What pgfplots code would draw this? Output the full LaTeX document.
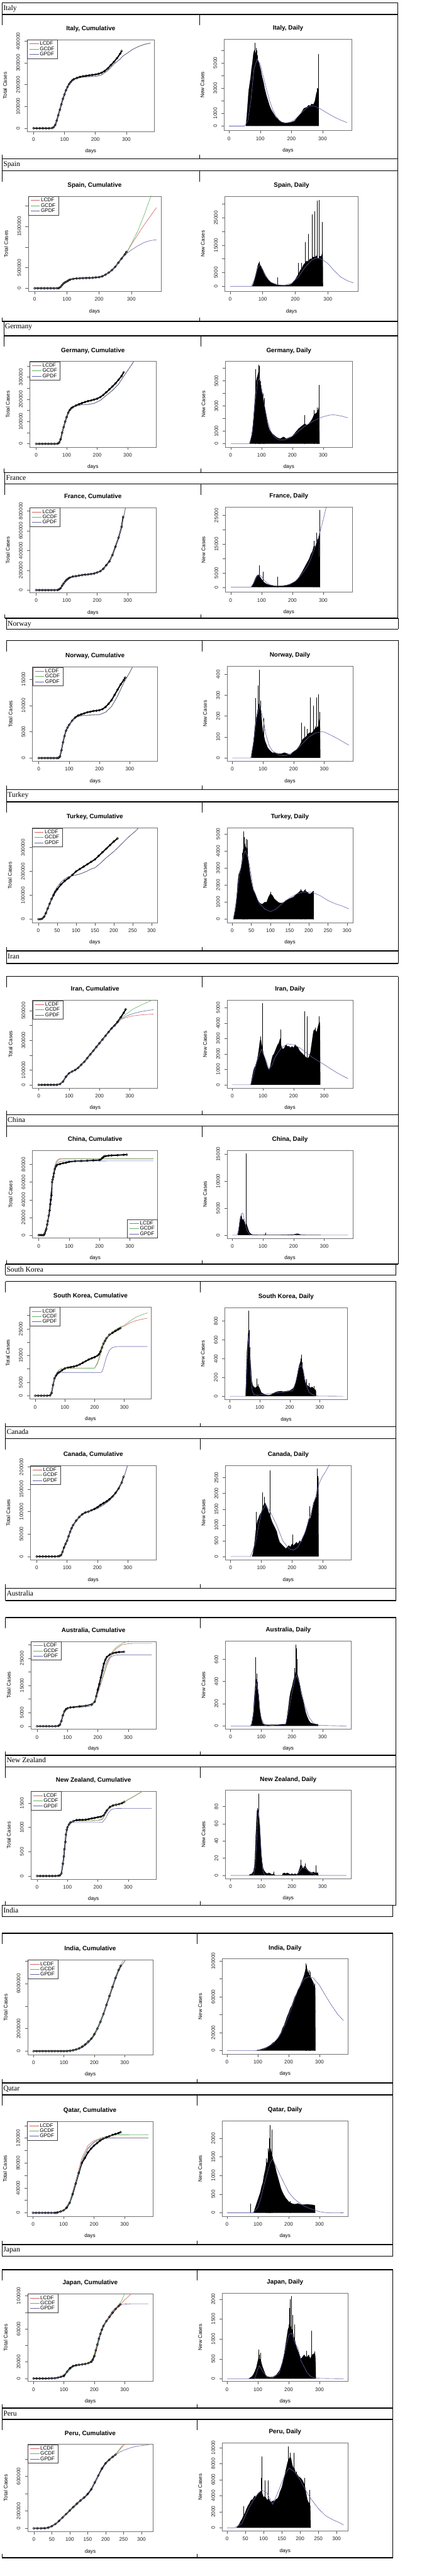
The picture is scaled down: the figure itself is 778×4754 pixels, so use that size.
\documentclass[border=0pt]{standalone}
\usepackage{fontspec}
\setmainfont{Liberation Sans}
\newfontfamily\hdrfont{Liberation Serif}
\usepackage{pgfplots}
\usepackage{pgfplotstable}
\pgfplotsset{compat=1.18}

\definecolor{lc}{RGB}{212,96,96}
\definecolor{gc}{RGB}{96,180,96}
\definecolor{pc}{RGB}{100,100,170}

\newcommand\rtick{\fontsize{9.5}{10}\selectfont}
\newcommand\rtitle{\bfseries\fontsize{11.5}{12}\selectfont}

% box of the current panel (left, top, width, height), in px of the page
\newcommand\bxy[4]{\def\PX{#1}\def\PY{#2}\def\PW{#3}\def\PH{#4}}
\newcommand\panel[2]{%
  \pgfmathsetmacro\pcx{\PX+\PW/2}%
  \pgfmathsetmacro\pty{17-\PY}%
  \pgfmathsetmacro\pxy{-\PY-\PH-39}%
  \pgfmathsetmacro\plx{\PX-37}%
  \pgfmathsetmacro\ply{-\PY-\PH/2}%
  \node[font=\rtitle, anchor=base, inner sep=0pt] at (\pcx pt,\pty pt) {#1};%
  \node[font=\rtick, anchor=base, inner sep=0pt] at (\pcx pt,\pxy pt) {days};%
  \node[font=\rtick, anchor=south, rotate=90, inner sep=0pt] at (\plx pt,\ply pt) {#2};%
}

% table frame of one country: L R M headtop headbottom celltop cellbottom name
\newcommand\blk[8]{%
  \draw[line width=1.8pt] (#1,#4) -- (#2,#4);
  \draw[line width=1.8pt] (#1,#5) -- (#2,#5);
  \draw[line width=1.2pt] (#1,#4) -- (#1,#5) (#2,#4) -- (#2,#5);
  \draw[line width=1.8pt] (#1,#6) -- (#2,#6);
  \draw[line width=1.2pt] (#2,#6) -- (#2,#7);
  \draw[line width=1.2pt] (#1,#6) -- (#1,{#6+20}) (#1,{#7-7}) -- (#1,#7);
  \draw[line width=1pt] (#3,#6) -- (#3,{#6+20}) (#3,{#7-7}) -- (#3,#7);
  \draw[line width=1.8pt] (#1,#7) -- (#2,#7);
  \node[anchor=base west, inner sep=0pt, font=\hdrfont\fontsize{13.5}{14}\selectfont] at ({#1+2},{#4+14}) {#8};
}

\pgfplotsset{
  rbase/.style={scale only axis, anchor=north west,
    at={(\PX pt,-\PY pt)}, width=\PW pt, height=\PH pt,
    axis line style={black!55, line width=0.6pt},
    tick style={black!65, line width=0.5pt},
    tick align=outside, tick pos=left, major tick length=5pt,
    xtick={0,100,200,300},
    tick label style={font=\rtick, text=black!85},
    xticklabel style={inner sep=0pt, anchor=north},
    yticklabel style={rotate=90, anchor=south, inner sep=0pt},
    /pgf/number format/fixed, /pgf/number format/1000 sep={},
    /pgf/number format/assume math mode=true,
    scaled ticks=false,
    xticklabel shift=6pt, yticklabel shift=8pt,
    extra y tick labels={}},
  cum/.style={rbase, legend cell align=left,
    legend style={at={(0,1)}, anchor=north west, draw=black!75, line width=0.5pt,
      fill=white, font=\rtick, inner xsep=4pt, inner ysep=2pt, row sep=-1.5pt,
      nodes={inner sep=1.5pt}},
    legend image code/.code={\draw[##1, line width=0.7pt] (0pt,0pt) -- (17pt,0pt);}},
  day/.style={rbase},
  obs/.style={black, line width=2.2pt, line join=round, mark=o, mark size=2pt,
    mark options={line width=0.6pt, solid}, forget plot},
  lfit/.style={lc, line width=0.7pt, no marks},
  gfit/.style={gc, line width=0.7pt, no marks},
  pfit/.style={pc, line width=0.7pt, no marks},
  bars/.style={draw=black, fill=black, line width=0.3pt, no marks, forget plot},
  spk/.style={ycomb, black, line width=0.6pt, no marks, forget plot},
  dfit/.style={pc, line width=0.7pt, no marks},
}
\newcommand\fitsA[1]{%
  \addplot[lfit] table[y index=1]{#1};
  \addplot[gfit] table[y index=1]{#1};
  \addplot[pfit] table[y index=1]{#1};
  \legend{LCDF,GCDF,GPDF}}
\newcommand\fitsB[1]{%
  \addplot[lfit] table[y index=1]{#1};
  \addplot[gfit] table[y index=2]{#1};
  \addplot[pfit] table[y index=3]{#1};
  \legend{LCDF,GCDF,GPDF}}

% fitted cumulative curves: day, value  (or day, LCDF, GCDF, GPDF)
\pgfplotstableread[row sep=\\]{0 0\\55 0\\65 4000\\75 33000\\85 84000\\95 134000\\105 174000\\115 202000\\125 219000\\140 229000\\160 235000\\180 237000\\200 238000\\220 245000\\240 265000\\260 295000\\280 318000\\290 333000\\300 342000\\320 362000\\340 376000\\360 386000\\378 391000\\}\itfit
\pgfplotstableread[row sep=\\]{0 0 0 0\\60 0 0 0\\70 1000 1000 1000\\80 30000 30000 30000\\90 118000 118000 118000\\100 170000 170000 170000\\110 205000 205000 205000\\120 225000 225000 225000\\140 240000 240000 240000\\160 246000 246000 246000\\180 252000 252000 252000\\200 268000 268000 268000\\220 325000 325000 325000\\240 438000 438000 438000\\260 615000 615000 615000\\280 810000 810000 800000\\290 920000 930000 870000\\300 1057000 1080000 926000\\320 1297000 1385000 1026000\\340 1537000 1777000 1109000\\360 1755000 2214000 1157000\\378 1952000 2600000 1175000\\}\esfit
\pgfplotstableread[row sep=\\]{0 0\\65 0\\75 5000\\85 50000\\95 100000\\105 138000\\115 158000\\130 170000\\150 176000\\170 177000\\190 182000\\210 195000\\230 218000\\250 240000\\270 268000\\285 300000\\300 330000\\310 350000\\320 371000\\330 392000\\}\defit
\pgfplotstableread[row sep=\\]{0 0\\65 0\\75 8000\\85 45000\\95 88000\\105 115000\\120 135000\\140 146000\\160 154000\\180 161000\\200 175000\\220 212000\\240 285000\\260 430000\\280 640000\\290 790000\\300 950000\\}\frfit
\pgfplotstableread[row sep=\\]{0 0\\62 0\\70 300\\75 1500\\80 3000\\90 5200\\100 6300\\110 7100\\120 7600\\130 7900\\140 8050\\160 8150\\180 8200\\200 8250\\220 8700\\240 9800\\260 11800\\280 14300\\290 15300\\300 16300\\310 17400\\320 18600\\}\nofit
\pgfplotstableread[row sep=\\]{0 0\\10 3000\\20 22000\\30 65000\\40 108000\\50 135000\\60 155000\\70 168000\\80 178000\\90 182000\\100 185000\\110 189000\\120 195000\\130 202000\\140 210000\\150 215000\\160 228000\\170 242000\\180 257000\\190 270000\\200 283000\\210 298000\\220 314000\\240 345000\\260 372000\\270 390000\\}\tufit
\pgfplotstableread[row sep=\\]{0 0 0 0\\60 0 0 0\\70 5000 5000 5000\\80 22000 22000 22000\\90 52000 52000 52000\\100 76000 76000 76000\\110 90000 90000 90000\\120 102000 102000 102000\\140 133000 133000 133000\\160 178000 178000 178000\\180 228000 228000 228000\\200 278000 278000 278000\\220 328000 328000 328000\\240 376000 376000 376000\\260 415000 418000 417000\\270 440000 450000 445000\\290 455000 480000 465000\\310 465000 510000 480000\\340 472000 540000 495000\\378 477000 575000 507000\\}\irfit
\pgfplotstableread[row sep=\\]{0 0 0 0\\15 0 0 0\\20 2000 2000 2000\\25 6000 6000 6000\\30 15000 15000 15000\\35 30000 30000 30000\\40 48000 48000 48000\\45 63000 63000 62000\\50 74000 73000 72000\\55 81000 79000 77000\\60 84500 83000 80500\\65 86000 85000 82500\\70 86500 86000 83500\\80 86700 86300 84000\\378 86700 86360 84100\\}\chfit
\pgfplotstableread[row sep=\\]{0 0 0 0\\50 0 0 0\\55 1000 1000 1000\\60 4000 4000 4000\\65 6500 6500 6500\\70 8000 8000 7800\\75 9000 9000 8400\\80 9600 9600 8600\\90 10200 10200 8700\\200 10300 10300 8700\\210 12000 12500 8700\\220 15500 16000 8700\\225 17500 17800 9000\\230 19500 19700 10500\\240 21500 21600 14500\\250 22800 22900 17000\\260 23800 23900 18000\\270 24500 24700 18300\\280 25200 25400 18400\\300 26000 26300 18400\\320 27300 28000 18400\\340 28100 29400 18400\\360 28600 30300 18400\\378 29000 31000 18400\\}\skfit
\pgfplotstableread[row sep=\\]{0 0\\70 0\\80 3000\\90 18000\\100 35000\\110 55000\\120 70000\\130 80000\\140 88000\\150 93000\\160 97000\\170 100000\\180 102000\\200 107000\\220 115000\\240 125000\\260 140000\\270 150000\\280 165000\\290 183000\\300 205000\\310 228000\\}\cafit
\pgfplotstableread[row sep=\\]{0 0 0 0\\65 0 0 0\\75 500 500 500\\80 1900 1900 1900\\85 4000 4000 4000\\90 5400 5400 5400\\100 6500 6500 6500\\110 6800 6800 6800\\140 7000 7000 6900\\180 7800 7800 7400\\190 9500 9500 9000\\200 12000 12500 12000\\210 15500 16000 17000\\220 19000 19500 21000\\230 22500 23000 24000\\240 25000 26000 25300\\250 27000 27800 25900\\260 28500 29000 26200\\280 30000 30500 26300\\300 30400 31300 26300\\320 30500 32500 26300\\378 30500 34000 26300\\}\aufit
\pgfplotstableread[row sep=\\]{0 0 0 0\\75 0 0 0\\80 50 50 50\\85 250 250 250\\90 550 550 550\\95 850 850 850\\100 990 990 990\\105 1060 1060 1060\\110 1100 1100 1095\\120 1130 1130 1100\\200 1140 1140 1100\\215 1160 1180 1105\\225 1280 1290 1180\\235 1370 1380 1300\\245 1420 1430 1370\\260 1465 1465 1390\\287 1525 1525 1392\\300 1570 1575 1393\\320 1640 1645 1393\\340 1715 1720 1393\\350 1750 1755 1393\\378 1850 1855 1393\\}\nzfit
\pgfplotstableread[row sep=\\]{0 0 0 0\\100 0 0 0\\120 25000 30000 10000\\140 170000 160000 100000\\160 420000 400000 300000\\180 850000 850000 700000\\200 1500000 1500000 1350000\\220 2600000 2600000 2500000\\240 4100000 4100000 4050000\\260 5700000 5750000 5700000\\280 7100000 7250000 7100000\\290 7600000 7800000 7600000\\300 8000000 8300000 8000000\\310 8400000 8800000 8400000\\}\infit
\pgfplotstableread[row sep=\\]{0 0 0 0\\80 0 0 0\\100 4000 3500 3000\\120 18000 17000 15000\\140 52000 50000 47000\\160 88000 84000 82000\\180 108000 104000 103000\\200 116000 114000 113000\\220 119000 120000 118000\\240 120000 123000 119800\\260 120200 124500 120200\\280 120300 125200 120300\\378 120300 125500 120300\\}\qafit
\pgfplotstableread[row sep=\\]{0 0 0 0\\70 300 300 300\\90 2000 2000 1800\\110 8000 8000 7000\\130 14500 14500 14000\\150 16500 16500 16000\\170 17500 17500 17200\\180 19000 19000 18000\\190 22000 21000 20000\\200 28000 30000 25000\\210 40000 42000 38000\\220 53000 55000 52000\\230 62000 63000 63000\\240 69000 70000 70000\\260 80000 80500 82000\\280 87000 89000 88000\\290 91000 94000 89500\\300 95000 103000 90000\\320 102000 115000 90300\\330 105000 120000 90400\\378 115000 140000 90400\\}\jafit
\pgfplotstableread[row sep=\\]{0 0 0 0\\20 200 200 200\\30 1500 1500 1500\\40 8000 8000 8000\\50 25000 25000 25000\\60 50000 50000 50000\\80 125000 125000 125000\\100 205000 205000 205000\\120 280000 270000 285000\\140 355000 355000 355000\\160 455000 455000 455000\\180 610000 610000 610000\\200 745000 745000 745000\\220 825000 825000 825000\\230 860000 865000 855000\\240 910000 920000 880000\\250 955000 975000 900000\\260 1000000 1030000 915000\\270 1040000 1080000 930000\\290 1100000 1150000 950000\\320 1150000 1200000 962000\\}\pefit

\begin{document}
\begin{tikzpicture}
\useasboundingbox (0pt,0pt) rectangle (778pt,-4754pt);
\fill[white] (0pt,0pt) rectangle (778pt,-4754pt);

\begin{scope}[x=1pt,y=-1pt]
\blk{4}{734}{368}{5}{27}{27}{293}{Italy}
\blk{4}{734}{368}{293}{315}{315}{593}{Spain}
\blk{7}{734}{371}{593}{620}{620}{872}{Germany}
\blk{9}{734}{371}{872}{893}{893}{1141}{France}
\blk{12}{735}{373}{1141}{1161}{1182}{1457}{Norway}
\blk{12}{735}{373}{1457}{1480}{1480}{1755}{Turkey}
\blk{12}{735}{373}{1755}{1778}{1802}{2057}{Iran}
\blk{12}{735}{373}{2057}{2078}{2078}{2333}{China}
\blk{10}{731}{370}{2333}{2353}{2365}{2633}{South Korea}
\blk{10}{731}{370}{2633}{2655}{2655}{2931}{Canada}
\blk{10}{731}{370}{2931}{2954}{2985}{3239}{Australia}
\blk{10}{731}{370}{3239}{3261}{3261}{3516}{New Zealand}
\blk{4}{725}{364}{3516}{3537}{3568}{3844}{India}
\blk{4}{725}{364}{3844}{3866}{3866}{4142}{Qatar}
\blk{4}{725}{364}{4142}{4164}{4189}{4444}{Japan}
\blk{4}{725}{364}{4444}{4465}{4465}{4720}{Peru}
\end{scope}

% ---------------- Italy
\bxy{50}{73}{235}{170}\panel{Italy, Cumulative}{Total Cases}
\begin{axis}[cum, xmin=-21, xmax=391, ymin=-15800, ymax=407500, ytick={0,100000,200000,300000,400000}]
\addplot[obs] table[row sep=\\]{0 0\\10 0\\20 0\\30 0\\40 0\\50 0\\60 1000\\65 5000\\70 15000\\75 35000\\80 60000\\85 85000\\90 110000\\95 135000\\100 155000\\105 175000\\110 190000\\115 203000\\120 212000\\125 220000\\130 225000\\140 231000\\150 236000\\160 239000\\170 241000\\180 243000\\190 245000\\200 247000\\210 250000\\220 255000\\230 263000\\240 275000\\250 290000\\260 305000\\270 322000\\280 342000\\285 355000\\};
\fitsA{\itfit}
\end{axis}
\bxy{414}{72}{235}{169}\panel{Italy, Daily}{New Cases}
\begin{axis}[day, xmin=-15, xmax=393, ymin=-357, ymax=6886, ytick={0,1000,3000,5000}, extra y ticks={2000,4000,6000}]
\addplot[bars] table[row sep=\\]{54 0\\57 800\\60 1800\\63 2800\\66 3300\\69 3800\\72 4500\\75 5000\\78 5700\\81 6000\\84 5700\\87 5900\\90 5500\\93 5200\\96 5000\\99 4700\\102 4400\\105 4000\\108 3700\\111 3400\\114 3000\\117 2700\\120 2400\\125 2000\\130 1600\\135 1300\\140 1100\\145 900\\150 700\\155 600\\160 450\\165 350\\170 300\\175 280\\180 250\\185 250\\190 260\\195 280\\200 300\\205 350\\210 400\\215 550\\220 700\\225 850\\230 1000\\235 1200\\240 1400\\245 1450\\250 1500\\255 1650\\260 1600\\265 1750\\270 1700\\275 1950\\280 2600\\283 2800\\286 3000\\287 0\\};
\addplot[spk] table[row sep=\\]{83 6570\\86 6200\\88 6000\\91 5600\\282 3000\\286 5700\\};
\addplot[dfit] table[row sep=\\]{0 0\\50 0\\60 400\\70 2000\\80 4500\\90 5300\\100 4900\\110 3900\\120 2900\\130 2000\\140 1300\\150 800\\160 500\\170 300\\180 250\\190 280\\200 350\\210 500\\220 750\\230 1000\\240 1250\\250 1450\\260 1580\\265 1600\\270 1590\\280 1520\\290 1400\\300 1250\\320 950\\340 680\\360 450\\378 280\\};
\end{axis}

% ---------------- Spain
\bxy{52}{362}{245}{176}\panel{Spain, Cumulative}{Total Cases}
\begin{axis}[cum, xmin=-20, xmax=392, ymin=-78600, ymax=2231000, ytick={0,500000,1500000}, extra y ticks={1000000,2000000}]
\addplot[obs] table[row sep=\\]{0 0\\10 0\\20 0\\30 0\\40 0\\50 0\\60 0\\70 1000\\75 5000\\80 30000\\85 75000\\90 120000\\95 145000\\100 165000\\105 190000\\110 210000\\120 227000\\130 238000\\140 242000\\150 245000\\160 248000\\170 251000\\180 255000\\190 262000\\200 270000\\210 290000\\220 330000\\230 380000\\240 440000\\250 520000\\260 620000\\270 720000\\280 820000\\285 880000\\};
\fitsB{\esfit}
\end{axis}
\bxy{415}{362}{246}{176}\panel{Spain, Daily}{New Cases}
\begin{axis}[day, xmin=-16, xmax=393, ymin=-1900, ymax=32900, ytick={0,5000,15000,25000}, extra y ticks={10000,20000,30000}]
\addplot[bars] table[row sep=\\]{67 0\\70 500\\73 1500\\76 3000\\79 4500\\82 6000\\85 7500\\88 8500\\91 8000\\94 7500\\97 6500\\100 6000\\103 5000\\106 4300\\109 3600\\112 3200\\115 2800\\118 2300\\121 1900\\125 1500\\130 1200\\135 1000\\140 800\\145 600\\150 500\\160 400\\170 400\\180 500\\185 700\\190 1000\\195 1800\\200 2500\\205 3500\\210 4500\\215 5800\\220 6500\\225 7800\\230 8500\\235 9300\\240 9000\\245 10000\\250 10000\\255 10800\\260 10500\\265 11200\\270 10000\\275 11000\\280 11000\\284 12500\\285 0\\};
\addplot[spk] table[row sep=\\]{89 9100\\145 3200\\210 8600\\219 8600\\231 16200\\240 19100\\252 26200\\260 27400\\267 31300\\273 31400\\282 23400\\};
\addplot[dfit] table[row sep=\\]{0 0\\65 0\\75 2500\\85 6800\\90 7600\\95 7400\\105 5000\\115 2800\\125 1500\\140 700\\150 500\\170 500\\190 1200\\210 3500\\230 7000\\250 9500\\265 10400\\275 10200\\290 9200\\300 8300\\320 5650\\340 3350\\360 2040\\378 1250\\};
\end{axis}

% ---------------- Germany
\bxy{55}{667}{233}{158}\panel{Germany, Cumulative}{Total Cases}
\begin{axis}[cum, xmin=-21, xmax=393, ymin=-14600, ymax=370600, ytick={0,100000,200000,300000}, extra y ticks={50000,150000,250000,350000}]
\addplot[obs] table[row sep=\\]{0 0\\10 0\\20 0\\30 0\\40 0\\50 0\\60 0\\70 500\\75 5000\\80 20000\\85 50000\\90 75000\\95 100000\\100 120000\\105 140000\\110 152000\\115 160000\\120 165000\\130 172000\\140 178000\\150 183000\\160 188000\\170 192000\\180 195000\\190 199000\\200 203000\\210 210000\\220 220000\\230 232000\\240 245000\\250 258000\\260 272000\\270 288000\\280 305000\\287 322000\\};
\fitsA{\defit}
\end{axis}
\bxy{416}{667}{234}{158}\panel{Germany, Daily}{New Cases}
\begin{axis}[day, xmin=-17, xmax=394, ymin=-258, ymax=6547, ytick={0,1000,3000,5000}, extra y ticks={2000,4000,6000}]
\addplot[bars] table[row sep=\\]{62 0\\65 300\\68 700\\71 1200\\74 2000\\77 3000\\80 4000\\83 5000\\86 5300\\89 5600\\92 5800\\95 5000\\98 4500\\101 4100\\104 3800\\107 3400\\110 3000\\113 2500\\116 2100\\119 1700\\122 1400\\126 1100\\130 950\\135 800\\140 700\\145 600\\150 500\\155 450\\160 400\\165 450\\170 550\\175 500\\180 400\\185 450\\190 500\\195 550\\200 600\\205 750\\210 900\\215 1050\\220 1200\\225 1300\\230 1400\\235 1500\\240 1600\\245 1500\\250 1500\\255 1650\\260 1800\\265 2000\\270 2300\\275 2400\\280 2500\\284 2700\\287 3000\\288 0\\};
\addplot[spk] table[row sep=\\]{81 5930\\90 6290\\93 6200\\96 5000\\105 4000\\110 3640\\240 2300\\270 2700\\280 2900\\287 4700\\};
\addplot[dfit] table[row sep=\\]{0 0\\60 0\\70 800\\80 3500\\88 5000\\93 5200\\100 4500\\110 3000\\120 1800\\130 1000\\140 600\\150 400\\160 300\\170 300\\180 350\\190 450\\200 600\\220 1000\\240 1400\\260 1700\\280 1950\\300 2150\\320 2280\\330 2300\\340 2290\\360 2200\\380 2063\\};
\end{axis}

% ---------------- France
\bxy{55}{937}{233}{157}\panel{France, Cumulative}{Total Cases}
\begin{axis}[cum, xmin=-21, xmax=393, ymin=-27000, ymax=833000, ytick={0,200000,400000,600000,800000}]
\addplot[obs] table[row sep=\\]{0 0\\10 0\\20 0\\30 0\\40 0\\50 0\\60 0\\70 1000\\75 8000\\80 20000\\85 45000\\90 67000\\95 88000\\100 104000\\105 116000\\110 126000\\120 137000\\130 141000\\140 147000\\150 152000\\160 156000\\170 159000\\180 163000\\190 168000\\200 178000\\210 191000\\220 215000\\230 252000\\240 290000\\250 355000\\260 440000\\270 530000\\280 640000\\285 740000\\};
\fitsA{\frfit}
\end{axis}
\bxy{416}{936}{234}{157}\panel{France, Daily}{New Cases}
\begin{axis}[day, xmin=-17, xmax=394, ymin=-1750, ymax=27900, ytick={0,5000,15000,25000}, extra y ticks={10000,20000}]
\addplot[bars] table[row sep=\\]{67 0\\70 500\\73 1200\\76 2000\\79 2800\\82 3500\\85 4000\\88 4300\\91 4200\\94 3800\\97 3300\\100 2800\\103 2400\\106 2000\\110 1600\\115 1200\\120 1000\\125 800\\130 700\\140 500\\150 400\\160 450\\170 500\\180 700\\190 1000\\200 1500\\210 2000\\220 3300\\230 5000\\240 7000\\245 8000\\250 9000\\255 10000\\260 11500\\265 12500\\270 14500\\275 14000\\280 16500\\285 17000\\287 18000\\288 0\\};
\addplot[spk] table[row sep=\\]{92 7560\\105 5500\\152 3600\\271 16200\\279 19000\\289 26900\\};
\addplot[dfit] table[row sep=\\]{0 0\\65 0\\75 1500\\85 3800\\92 4500\\100 3700\\110 2300\\120 1300\\130 800\\140 550\\150 450\\160 450\\170 550\\180 700\\190 900\\200 1500\\210 2200\\220 3200\\230 4500\\240 6000\\250 7500\\260 10000\\270 13000\\280 16000\\290 19500\\300 23500\\310 28000\\320 32000\\};
\end{axis}

% ---------------- Norway
\bxy{60}{1231}{231}{174}\panel{Norway, Cumulative}{Total Cases}
\begin{axis}[cum, xmin=-20.5, xmax=392, ymin=-616, ymax=17300, ytick={0,5000,10000,15000}]
\addplot[obs] table[row sep=\\]{0 0\\10 0\\20 0\\30 0\\40 0\\50 0\\60 0\\65 50\\70 300\\75 1500\\80 3000\\85 4200\\90 5200\\95 5800\\100 6300\\110 7100\\120 7700\\130 8100\\140 8300\\150 8500\\160 8700\\170 8800\\180 8950\\190 9000\\200 9100\\210 9300\\220 9700\\230 10300\\240 11000\\250 12000\\260 13000\\270 14000\\280 14800\\285 15300\\};
\fitsA{\nofit}
\end{axis}
\bxy{419}{1229}{232}{176}\panel{Norway, Daily}{New Cases}
\begin{axis}[day, xmin=-17, xmax=393, ymin=-16.5, ymax=440, ytick={0,100,200,300,400}]
\addplot[bars] table[row sep=\\]{62 0\\65 30\\68 60\\71 100\\74 150\\77 180\\80 200\\83 230\\86 240\\89 250\\92 240\\95 200\\98 150\\101 120\\104 100\\107 80\\110 70\\115 50\\120 40\\130 25\\140 25\\150 20\\160 20\\170 25\\180 20\\190 15\\200 30\\210 40\\220 60\\230 90\\240 100\\250 120\\260 120\\270 140\\280 150\\284 180\\286 200\\287 0\\};
\addplot[spk] table[row sep=\\]{75 285\\83 347\\86 260\\88 422\\92 274\\103 191\\225 170\\235 150\\245 140\\255 288\\265 250\\270 150\\275 290\\280 305\\285 220\\};
\addplot[dfit] table[row sep=\\]{0 0\\60 0\\70 80\\80 200\\90 250\\100 190\\110 110\\120 60\\130 35\\150 15\\170 10\\190 20\\210 40\\230 70\\250 100\\270 118\\290 125\\300 124\\320 110\\340 95\\360 78\\380 61\\};
\end{axis}

% ---------------- Turkey
\bxy{59}{1528}{232}{175}\panel{Turkey, Cumulative}{Total Cases}
\begin{axis}[cum, xmin=-17, xmax=316.5, ymin=-15100, ymax=381700, xtick={0,50,...,300}, ytick={0,100000,200000,300000}]
\addplot[obs] table[row sep=\\]{0 0\\5 0\\10 2000\\15 10000\\20 25000\\25 45000\\30 65000\\35 85000\\40 100000\\45 115000\\50 125000\\60 145000\\70 160000\\80 172000\\90 185000\\100 200000\\110 210000\\120 220000\\130 230000\\140 240000\\150 250000\\160 265000\\170 280000\\180 295000\\190 310000\\200 325000\\210 338000\\};
\fitsA{\tufit}
\end{axis}
\bxy{419}{1528}{232}{175}\panel{Turkey, Daily}{New Cases}
\begin{axis}[day, xmin=-13.4, xmax=315, ymin=-211, ymax=5348, xtick={0,50,...,300}, ytick={0,1000,2000,3000,4000,5000}]
\addplot[bars] table[row sep=\\]{3 0\\5 200\\8 500\\11 1000\\14 2000\\17 2600\\20 2800\\23 3000\\26 3500\\29 4100\\32 4500\\35 4200\\38 4200\\41 3700\\44 3100\\47 2600\\50 2200\\55 1700\\60 1500\\65 1200\\70 1000\\75 900\\80 900\\85 1000\\90 1000\\95 1300\\100 1500\\105 1400\\110 1200\\115 1100\\120 1000\\125 950\\130 950\\135 1000\\140 1100\\145 1150\\150 1200\\155 1250\\160 1300\\165 1400\\170 1500\\175 1600\\180 1700\\185 1600\\190 1700\\195 1600\\200 1500\\205 1500\\210 1600\\212 1650\\213 0\\};
\addplot[spk] table[row sep=\\]{26 3900\\30 5148\\32 4800\\37 4700\\40 4650\\100 1600\\180 1750\\190 1750\\212 1650\\};
\addplot[dfit] table[row sep=\\]{3 0\\10 1000\\20 2700\\30 3800\\34 4000\\40 3700\\45 3200\\55 1800\\70 950\\85 600\\100 450\\115 600\\130 900\\150 1250\\170 1500\\190 1600\\210 1570\\230 1380\\250 1100\\270 900\\290 750\\305 600\\};
\end{axis}

% ---------------- Iran
\bxy{60}{1846}{231}{162}\panel{Iran, Cumulative}{Total Cases}
\begin{axis}[cum, xmin=-20.5, xmax=392, ymin=-21900, ymax=570000, ytick={0,100000,300000,500000}, extra y ticks={200000,400000}]
\addplot[obs] table[row sep=\\]{0 0\\10 0\\20 0\\30 0\\40 0\\50 0\\60 0\\70 5000\\80 22000\\90 55000\\100 78000\\110 90000\\120 100000\\130 115000\\140 135000\\150 155000\\160 180000\\170 205000\\180 230000\\190 255000\\200 280000\\210 305000\\220 330000\\230 355000\\240 380000\\250 400000\\260 425000\\270 455000\\280 485000\\287 510000\\};
\fitsB{\irfit}
\end{axis}
\bxy{419}{1846}{232}{162}\panel{Iran, Daily}{New Cases}
\begin{axis}[day, xmin=-17, xmax=393, ymin=-210, ymax=5480, ytick={0,1000,2000,3000,4000,5000}]
\addplot[bars] table[row sep=\\]{60 0\\63 300\\66 600\\69 900\\72 1100\\75 1200\\78 1400\\81 1600\\84 1900\\87 2300\\90 2800\\93 3000\\96 2600\\99 2300\\102 2000\\105 1800\\108 1600\\111 1400\\114 1200\\117 1050\\120 1000\\124 1200\\128 1600\\132 1900\\136 2000\\140 2200\\144 2400\\148 2600\\152 2700\\156 3000\\160 2500\\165 2300\\170 2400\\175 2600\\180 2500\\185 2500\\190 2400\\195 2500\\200 2400\\205 2600\\210 2500\\215 2400\\220 2200\\225 2100\\230 2000\\235 1900\\240 1800\\245 1700\\250 1800\\255 2100\\260 2800\\265 3500\\270 3600\\275 3400\\280 3800\\284 4100\\286 4000\\287 0\\};
\addplot[spk] table[row sep=\\]{93 3150\\98 5280\\158 3590\\236 4750\\243 4430\\270 3700\\284 4430\\};
\addplot[dfit] table[row sep=\\]{0 0\\60 0\\70 700\\80 1500\\95 2300\\110 1600\\120 1000\\130 1300\\140 1800\\160 2400\\180 2650\\200 2600\\220 2400\\240 2100\\260 1800\\280 1550\\300 1310\\320 1050\\340 800\\360 580\\378 400\\};
\end{axis}

% ---------------- China
\bxy{60}{2123}{231}{162}\panel{China, Cumulative}{Total Cases}
\begin{axis}[cum, xmin=-20.5, xmax=392, ymin=-3490, ymax=96000, ytick={0,20000,40000,60000,80000}, legend style={at={(1,0)}, anchor=south east}]
\addplot[obs] table[row sep=\\]{0 0\\5 0\\10 0\\15 0\\18 500\\20 2000\\23 5000\\25 7000\\28 12000\\30 16000\\33 22000\\36 28000\\38 35000\\40 40000\\42 45000\\44 60000\\46 63000\\48 66000\\50 70000\\53 75000\\57 78000\\60 79500\\70 80500\\80 81500\\90 82000\\100 83000\\120 83800\\140 84000\\160 84300\\180 84700\\200 85000\\205 86000\\210 87500\\215 89000\\220 89500\\230 90000\\240 90300\\260 90600\\280 91000\\290 91200\\};
\fitsB{\chfit}
\end{axis}
\bxy{419}{2123}{232}{162}\panel{China, Daily}{New Cases}
\begin{axis}[day, xmin=-17, xmax=393, ymin=-570, ymax=15700, ytick={0,5000,10000,15000}]
\addplot[bars] table[row sep=\\]{18 0\\20 500\\22 1500\\24 2500\\26 3200\\28 3500\\30 3700\\32 3000\\34 2700\\36 3000\\38 2600\\40 2400\\42 2000\\44 1800\\46 2200\\48 1800\\50 1400\\53 900\\56 500\\60 250\\65 100\\70 50\\90 40\\100 40\\108 100\\110 40\\150 30\\200 100\\210 250\\215 250\\220 120\\230 40\\240 10\\288 10\\289 0\\};
\addplot[spk] table[row sep=\\]{27 3460\\28 3800\\45 15100\\108 440\\};
\addplot[dfit] table[row sep=\\]{0 0\\15 0\\20 800\\25 2500\\30 4000\\34 4100\\38 3300\\42 2200\\48 900\\55 200\\62 20\\70 0\\200 0\\210 150\\220 100\\230 0\\378 0\\};
\end{axis}

% ---------------- South Korea
\bxy{55}{2412}{224}{170}\panel{South Korea, Cumulative}{Total Cases}
\begin{axis}[cum, xmin=-18.3, xmax=390.6, ymin=-1280, ymax=33180, ytick={0,5000,15000,25000}, extra y ticks={10000,20000,30000}]
\addplot[obs] table[row sep=\\]{0 0\\10 0\\20 0\\30 0\\40 0\\50 100\\55 1000\\60 4000\\65 6500\\70 7500\\75 8300\\80 8700\\90 9500\\100 10200\\110 10500\\120 10700\\130 10900\\140 11200\\150 11700\\160 12300\\170 12900\\180 13500\\190 14000\\200 14400\\210 15000\\215 15500\\220 16500\\225 18000\\230 19500\\235 20500\\240 21500\\250 22800\\260 23500\\270 24200\\280 24800\\287 25300\\};
\fitsB{\skfit}
\end{axis}
\bxy{415}{2413}{226}{170}\panel{South Korea, Daily}{New Cases}
\begin{axis}[day, xmin=-16.3, xmax=392, ymin=-36, ymax=943, ytick={0,200,400,600,800}]
\addplot[bars] table[row sep=\\]{53 0\\55 250\\57 450\\59 550\\61 650\\63 700\\65 600\\67 500\\69 380\\71 280\\73 170\\76 120\\80 100\\85 90\\90 100\\95 110\\100 80\\105 40\\110 30\\120 15\\130 10\\140 20\\150 40\\160 50\\170 55\\180 50\\190 55\\200 60\\205 70\\210 80\\215 100\\220 150\\225 220\\228 280\\231 320\\234 350\\237 380\\240 350\\243 300\\246 240\\249 180\\252 150\\255 130\\260 110\\265 100\\270 90\\275 100\\280 80\\285 70\\287 60\\288 0\\};
\addplot[spk] table[row sep=\\]{62 907\\64 700\\66 520\\90 190\\95 130\\236 400\\239 442\\242 360\\255 180\\265 140\\280 110\\};
\addplot[dfit] table[row sep=\\]{0 0\\53 0\\57 300\\62 650\\66 500\\70 200\\75 60\\80 20\\90 10\\140 30\\180 45\\210 60\\220 150\\230 300\\238 330\\245 280\\255 120\\265 40\\280 10\\295 2\\378 0\\};
\end{axis}

% ---------------- Canada
\bxy{56}{2705}{232}{174}\panel{Canada, Cumulative}{Total Cases}
\begin{axis}[cum, xmin=-21, xmax=393, ymin=-8000, ymax=202500, ytick={0,50000,100000,150000,200000}]
\addplot[obs] table[row sep=\\]{0 0\\10 0\\20 0\\30 0\\40 0\\50 0\\60 0\\70 300\\75 1000\\80 3000\\85 10000\\90 20000\\95 28000\\100 35000\\105 45000\\110 55000\\115 63000\\120 70000\\130 80000\\140 88000\\150 94000\\160 98000\\170 100000\\180 103000\\190 106000\\200 110000\\210 115000\\220 119000\\230 123000\\240 128000\\250 134000\\260 142000\\270 152000\\280 165000\\286 178000\\};
\fitsA{\cafit}
\end{axis}
\bxy{416}{2704}{232}{175}\panel{Canada, Daily}{New Cases}
\begin{axis}[day, xmin=-17, xmax=393, ymin=-113, ymax=2897, ytick={0,500,1000,1500,2000,2500}]
\addplot[bars] table[row sep=\\]{70 0\\73 100\\76 300\\79 500\\82 800\\85 1000\\88 1150\\91 1200\\94 1300\\97 1350\\100 1400\\103 1500\\106 1600\\109 1650\\112 1700\\115 1650\\118 1550\\121 1500\\124 1400\\127 1350\\130 1250\\135 1100\\140 1000\\145 900\\150 800\\155 600\\160 450\\165 400\\170 350\\175 300\\180 250\\185 300\\190 350\\195 300\\200 400\\205 350\\210 400\\215 450\\220 400\\225 500\\230 450\\235 600\\240 700\\245 800\\250 1000\\255 1200\\260 1200\\265 1400\\270 1700\\275 1800\\280 1900\\283 2300\\286 2500\\287 0\\};
\addplot[spk] table[row sep=\\]{83 1410\\103 2036\\110 1900\\128 2740\\203 700\\258 1600\\282 2790\\285 2550\\};
\addplot[dfit] table[row sep=\\]{0 0\\65 0\\80 400\\90 900\\100 1400\\115 1650\\130 1400\\150 1000\\170 500\\190 250\\205 200\\220 300\\240 700\\260 1300\\280 2000\\290 2350\\300 2550\\310 2700\\320 2880\\330 3050\\};
\end{axis}

% ---------------- Australia
\bxy{57}{3029}{231}{162}\panel{Australia, Cumulative}{Total Cases}
\begin{axis}[cum, xmin=-20.5, xmax=392, ymin=-1140, ymax=31260, ytick={0,5000,15000,25000}, extra y ticks={10000,20000,30000}]
\addplot[obs] table[row sep=\\]{0 0\\10 0\\20 0\\30 0\\40 0\\50 0\\60 0\\70 100\\75 500\\80 1900\\85 4000\\90 5500\\95 6200\\100 6600\\110 6900\\120 7000\\140 7300\\160 7500\\180 8000\\190 9000\\195 11000\\200 13500\\205 15500\\210 18000\\215 20500\\220 23000\\225 24500\\230 25500\\240 26400\\250 26900\\260 27100\\270 27300\\286 27400\\};
\fitsB{\aufit}
\end{axis}
\bxy{416}{3028}{232}{163}\panel{Australia, Daily}{New Cases}
\begin{axis}[day, xmin=-17, xmax=393, ymin=-28, ymax=766, ytick={0,200,400,600}]
\addplot[bars] table[row sep=\\]{65 0\\68 20\\71 60\\74 120\\77 250\\80 350\\83 420\\86 400\\89 330\\92 270\\95 150\\98 90\\101 50\\105 20\\110 15\\120 10\\180 15\\183 60\\186 120\\189 180\\192 250\\195 300\\198 330\\201 360\\204 400\\207 430\\210 460\\213 500\\216 480\\219 450\\222 420\\225 380\\228 320\\231 280\\234 250\\237 220\\240 180\\245 120\\250 80\\255 50\\260 30\\270 20\\285 15\\286 0\\};
\addplot[spk] table[row sep=\\]{82 620\\85 473\\88 400\\208 520\\212 733\\214 700\\217 600\\};
\addplot[dfit] table[row sep=\\]{0 0\\68 0\\75 120\\80 300\\85 390\\90 300\\95 150\\100 70\\110 10\\120 0\\180 20\\190 150\\200 300\\210 430\\215 455\\225 380\\240 200\\255 80\\270 25\\290 5\\378 0\\};
\end{axis}

% ---------------- New Zealand
\bxy{57}{3306}{231}{162}\panel{New Zealand, Cumulative}{Total Cases}
\begin{axis}[cum, xmin=-20.5, xmax=392, ymin=-67, ymax=1741, ytick={0,500,1000,1500}]
\addplot[obs] table[row sep=\\]{0 0\\10 0\\20 0\\30 0\\40 0\\50 0\\60 0\\70 5\\75 10\\80 50\\85 250\\88 400\\90 550\\93 700\\95 850\\98 950\\100 1000\\105 1060\\110 1100\\120 1130\\130 1150\\140 1155\\150 1155\\160 1160\\170 1170\\180 1185\\190 1195\\200 1210\\210 1220\\220 1250\\225 1300\\230 1350\\240 1420\\250 1450\\260 1465\\270 1480\\280 1500\\287 1525\\};
\fitsB{\nzfit}
\end{axis}
\bxy{416}{3304}{232}{163}\panel{New Zealand, Daily}{New Cases}
\begin{axis}[day, xmin=-17, xmax=393, ymin=-3.8, ymax=98.9, ytick={0,20,40,60,80}]
\addplot[bars] table[row sep=\\]{60 0\\62 1\\70 2\\75 5\\78 12\\80 25\\82 45\\84 60\\86 75\\88 77\\90 76\\92 70\\94 62\\96 50\\98 38\\100 25\\103 15\\106 8\\110 5\\115 3\\120 2\\125 3\\130 2\\135 1\\140 2\\145 0\\168 0\\170 2\\175 3\\180 2\\185 3\\190 2\\195 1\\200 2\\205 1\\210 2\\215 1\\220 3\\225 8\\228 12\\231 12\\234 9\\237 8\\240 10\\243 11\\246 9\\250 7\\255 5\\260 4\\265 3\\270 4\\275 3\\280 3\\285 3\\286 0\\};
\addplot[spk] table[row sep=\\]{87 78\\92 95\\140 4\\228 18\\243 14\\278 12\\};
\addplot[dfit] table[row sep=\\]{0 0\\75 0\\80 10\\85 40\\88 65\\91 75\\95 60\\100 25\\105 6\\110 1\\115 0\\215 0\\225 5\\235 10\\245 8\\260 3\\280 0\\378 0\\};
\end{axis}

% ---------------- India
\bxy{51}{3617}{231}{175}\panel{India, Cumulative}{Total Cases}
\begin{axis}[cum, xmin=-19.6, xmax=392.6, ymin=-321000, ymax=8100000, ytick={0,2000000,6000000}, extra y ticks={4000000,8000000}]
\addplot[obs] table[row sep=\\]{0 0\\10 0\\20 0\\30 0\\40 0\\50 0\\60 0\\70 0\\80 0\\90 0\\100 0\\110 5000\\120 30000\\130 80000\\140 150000\\150 250000\\160 400000\\170 600000\\180 850000\\190 1100000\\200 1500000\\210 2000000\\220 2600000\\230 3300000\\240 4100000\\250 4900000\\260 5700000\\270 6500000\\280 7200000\\287 7600000\\};
\fitsB{\infit}
\end{axis}
\bxy{410}{3615}{232}{176}\panel{India, Daily}{New Cases}
\begin{axis}[day, xmin=-15.8, xmax=392, ymin=-4030, ymax=102400, ytick={0,20000,60000,100000}, extra y ticks={40000,80000}]
\addplot[bars] table[row sep=\\]{95 0\\100 800\\105 1000\\110 1500\\115 2000\\120 2500\\125 3200\\130 4000\\135 5000\\140 6000\\145 7500\\150 9000\\155 10000\\160 12000\\165 14000\\170 17000\\175 20000\\180 25000\\185 28000\\190 33000\\195 38000\\200 42000\\205 47000\\210 50000\\215 55000\\220 60000\\225 63000\\230 67000\\235 70000\\240 75000\\245 79000\\250 84000\\253 88000\\256 93000\\259 92000\\262 88000\\265 86000\\268 84000\\271 82000\\274 80000\\277 78000\\280 76000\\283 72000\\286 70000\\287 0\\};
\addplot[spk] table[row sep=\\]{256 97400\\258 95000\\265 89300\\270 88000\\285 75000\\};
\addplot[dfit] table[row sep=\\]{0 0\\90 0\\120 1500\\150 8000\\170 16000\\190 30000\\210 48000\\230 68000\\250 80000\\265 82500\\280 81000\\300 72800\\320 61000\\340 50000\\360 40000\\378 33500\\};
\end{axis}

% ---------------- Qatar
\bxy{50}{3915}{232}{175}\panel{Qatar, Cumulative}{Total Cases}
\begin{axis}[cum, xmin=-19.5, xmax=392.5, ymin=-5500, ymax=146800, ytick={0,40000,80000,120000}, extra y ticks={20000,60000,100000,140000}]
\addplot[obs] table[row sep=\\]{0 0\\10 0\\20 0\\30 0\\40 0\\50 0\\60 0\\70 0\\75 0\\80 500\\90 2000\\100 4000\\110 8000\\120 16000\\130 30000\\140 47000\\150 64000\\160 80000\\170 88000\\180 97000\\190 103000\\200 108000\\210 112000\\220 116000\\230 119000\\240 121000\\250 123000\\260 125000\\270 126500\\280 128000\\287 129500\\};
\fitsB{\qafit}
\end{axis}
\bxy{410}{3914}{232}{176}\panel{Qatar, Daily}{New Cases}
\begin{axis}[day, xmin=-15.8, xmax=392, ymin=-92, ymax=2469, ytick={0,500,1000,1500,2000}]
\addplot[bars] table[row sep=\\]{85 0\\88 50\\92 150\\96 250\\100 350\\104 450\\108 550\\112 700\\116 800\\120 1000\\124 1150\\128 1350\\131 1350\\134 1550\\137 1700\\140 1750\\143 1650\\146 1550\\149 1450\\152 1350\\156 1250\\160 1100\\165 950\\170 800\\175 650\\180 550\\185 470\\190 400\\200 300\\210 250\\220 230\\230 250\\240 220\\250 220\\260 230\\270 220\\280 210\\285 200\\286 0\\};
\addplot[spk] table[row sep=\\]{75 238\\128 1460\\133 1730\\137 1997\\139 2361\\145 2240\\205 320\\};
\addplot[dfit] table[row sep=\\]{0 0\\85 0\\100 150\\110 400\\120 750\\130 1050\\140 1350\\148 1450\\156 1300\\170 1050\\186 780\\200 550\\215 400\\230 295\\250 180\\274 100\\300 30\\320 5\\378 0\\};
\end{axis}

% ---------------- Japan
\bxy{51}{4233}{231}{162}\panel{Japan, Cumulative}{Total Cases}
\begin{axis}[cum, xmin=-19.6, xmax=392.6, ymin=-3700, ymax=102500, ytick={0,20000,60000,100000}, extra y ticks={40000,80000}]
\addplot[obs] table[row sep=\\]{0 0\\10 0\\20 0\\30 0\\40 0\\50 100\\60 200\\70 300\\80 1000\\90 2000\\100 3000\\110 8000\\120 12500\\130 15000\\140 16000\\150 16500\\160 17000\\170 17500\\180 18500\\190 20000\\195 22500\\200 27000\\205 34000\\210 41000\\215 48000\\220 54000\\225 59000\\230 63500\\240 69500\\250 74500\\260 79500\\270 84000\\280 87500\\286 89600\\};
\fitsB{\jafit}
\end{axis}
\bxy{410}{4232}{232}{163}\panel{Japan, Daily}{New Cases}
\begin{axis}[day, xmin=-15.8, xmax=392, ymin=-68, ymax=2149, ytick={0,500,1000,1500,2000}]
\addplot[bars] table[row sep=\\]{70 0\\75 30\\80 50\\85 100\\90 180\\95 280\\100 450\\103 550\\106 500\\109 480\\112 380\\115 300\\120 200\\125 100\\130 60\\140 40\\150 50\\160 100\\170 200\\175 300\\180 400\\185 600\\190 850\\195 1100\\198 1250\\201 1300\\204 1400\\207 1300\\210 1250\\213 1200\\216 1050\\219 1000\\222 900\\225 800\\230 700\\235 600\\240 500\\245 550\\250 600\\255 550\\260 550\\265 600\\270 500\\275 600\\280 620\\285 650\\287 500\\288 0\\};
\addplot[spk] table[row sep=\\]{103 735\\105 600\\108 658\\200 1362\\203 1771\\205 1998\\209 2067\\213 1594\\219 1362\\258 704\\273 1203\\285 681\\};
\addplot[dfit] table[row sep=\\]{0 0\\90 0\\100 250\\105 330\\115 200\\130 40\\150 30\\170 150\\185 600\\200 1100\\210 1150\\220 900\\230 772\\240 450\\250 300\\260 150\\270 70\\280 30\\300 10\\378 0\\};
\end{axis}

% ---------------- Peru
\bxy{51}{4511}{231}{161}\panel{Peru, Cumulative}{Total Cases}
\begin{axis}[cum, xmin=-17.3, xmax=331.7, ymin=-37300, ymax=968900, xtick={0,50,...,300}, ytick={0,200000,600000}, extra y ticks={400000,800000}]
\addplot[obs] table[row sep=\\]{0 0\\10 0\\20 200\\30 1500\\40 8000\\50 25000\\60 50000\\70 85000\\80 125000\\90 165000\\100 205000\\110 245000\\120 285000\\130 320000\\140 355000\\150 395000\\160 450000\\170 530000\\180 610000\\190 690000\\200 750000\\210 790000\\220 825000\\228 850000\\};
\fitsB{\pefit}
\end{axis}
\bxy{410}{4508}{232}{163}\panel{Peru, Daily}{New Cases}
\begin{axis}[day, xmin=-13.4, xmax=331, ymin=-406, ymax=10610, xtick={0,50,...,300}, ytick={0,2000,4000,6000,8000,10000}]
\addplot[bars] table[row sep=\\]{25 0\\28 100\\31 300\\34 500\\37 800\\40 1000\\43 1300\\46 1600\\49 1800\\52 2200\\55 2500\\58 2800\\61 3000\\64 3300\\67 3500\\70 3500\\73 3800\\76 4000\\79 3800\\82 4100\\85 4300\\88 4400\\91 4500\\94 4600\\97 4200\\100 3800\\103 3900\\106 3800\\109 3500\\112 3500\\115 3600\\118 3300\\121 3200\\124 3300\\127 3400\\130 3300\\133 3500\\136 3600\\139 3700\\142 4000\\145 4500\\148 4800\\151 5200\\154 5800\\157 6300\\160 7000\\163 7600\\166 8200\\169 8500\\172 8800\\175 8700\\178 8000\\181 7500\\184 7500\\187 7000\\190 6800\\193 6600\\196 6400\\199 6300\\202 6200\\205 6000\\208 5800\\211 5500\\214 5000\\217 4200\\220 3500\\223 3200\\226 3000\\228 2700\\229 0\\};
\addplot[spk] table[row sep=\\]{45 2700\\93 6200\\95 8920\\96 8500\\103 5900\\113 5900\\168 10160\\173 9400\\183 9370\\190 7000\\213 6200\\226 4740\\};
\addplot[dfit] table[row sep=\\]{0 0\\20 0\\40 500\\60 2500\\80 4000\\95 4740\\110 4300\\125 2930\\140 4500\\160 6800\\170 7450\\185 7000\\200 6000\\215 4700\\230 3600\\250 2400\\270 1500\\290 1000\\310 600\\319 340\\};
\end{axis}

\end{tikzpicture}
\end{document}
